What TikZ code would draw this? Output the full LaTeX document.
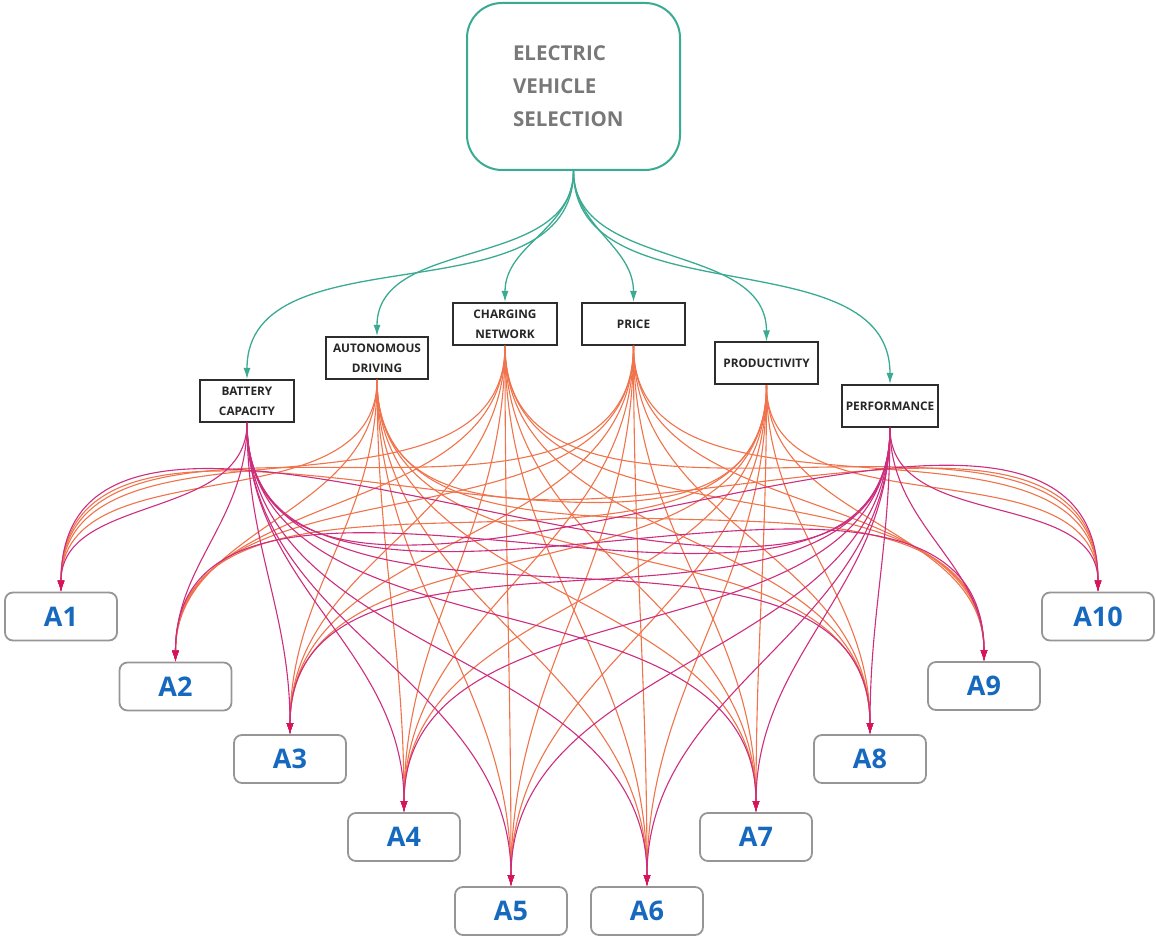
\documentclass[tikz,border=0pt]{standalone}
\usepackage{fontspec}
\setmainfont{Open Sans}
\usetikzlibrary{arrows.meta}

\definecolor{goalgreen}{RGB}{58,170,146}
\definecolor{titlegray}{RGB}{120,120,120}
\definecolor{critedge}{RGB}{45,45,45}
\definecolor{altedge}{RGB}{150,150,150}
\definecolor{altblue}{RGB}{22,105,190}
\definecolor{linkorange}{RGB}{240,115,75}
\definecolor{linkpink}{RGB}{205,45,125}
\definecolor{tipred}{RGB}{215,20,90}

\begin{document}
\begin{tikzpicture}[x=1pt,y=1pt,
    goal/.style={draw=goalgreen, line width=2pt, rounded corners=35pt,
      minimum width=213pt, minimum height=167pt, text width=121pt,
      align=left, text=titlegray, font=\bfseries\fontsize{20.5}{33}\selectfont},
    crit/.style={draw=critedge, line width=2pt, fill=white,
      minimum height=42pt, inner sep=0pt, align=center, text=black!85,
      font=\bfseries\fontsize{11.8}{20}\selectfont},
    alt/.style={draw=altedge, line width=1.8pt, rounded corners=8pt,
      minimum width=112pt, minimum height=48pt, text=altblue,
      font=\bfseries\fontsize{27}{30}\selectfont},
    goallink/.style={goalgreen, line width=1.3pt,
      -{Latex[length=11pt,width=7pt]}, out=-90, in=90},
    link/.style={#1, line width=1.1pt,
      -{Latex[length=11pt,width=7pt,color=tipred]}, out=-90, in=90}]
    \useasboundingbox (0,0) rectangle (1156,937);

    % goal
    \node[goal] (goal) at (573.5,850.5) {ELECTRIC\\VEHICLE\\SELECTION};

    % criteria
    \node[crit, minimum width=94pt]  (battery)      at (247,536)   {BATTERY\\CAPACITY};
    \node[crit, minimum width=102pt] (autonomous)   at (377,579)   {AUTONOMOUS\\DRIVING};
    \node[crit, minimum width=104pt] (charging)     at (505,613)   {CHARGING\\NETWORK};
    \node[crit, minimum width=103pt] (price)        at (633.5,613) {PRICE};
    \node[crit, minimum width=103pt] (productivity) at (766.5,573.5) {PRODUCTIVITY};
    \node[crit, minimum width=96pt]  (performance)  at (890,531)   {PERFORMANCE};

    % alternatives
    \foreach \i/\x/\y in {1/61/320.5, 2/175.5/250.5, 3/290/178, 4/404/100,
        5/511/26, 6/647/26, 7/756/100, 8/870/178, 9/984/251, 10/1098/320.5}
      \node[alt] (A\i) at (\x,\y) {A\i};

    % goal to criteria
    \foreach \c in {battery,autonomous,charging,price,productivity,performance}
      \draw[goallink] (goal.south) to (\c.north);

    % criteria to alternatives
    \foreach \c in {autonomous,charging,price,productivity}
      \foreach \a in {1,...,10}
        \draw[link=linkorange] (\c.south) to (A\a.north);
    \foreach \c in {battery,performance}
      \foreach \a in {1,...,10}
        \draw[link=linkpink] (\c.south) to (A\a.north);
\end{tikzpicture}
\end{document}
